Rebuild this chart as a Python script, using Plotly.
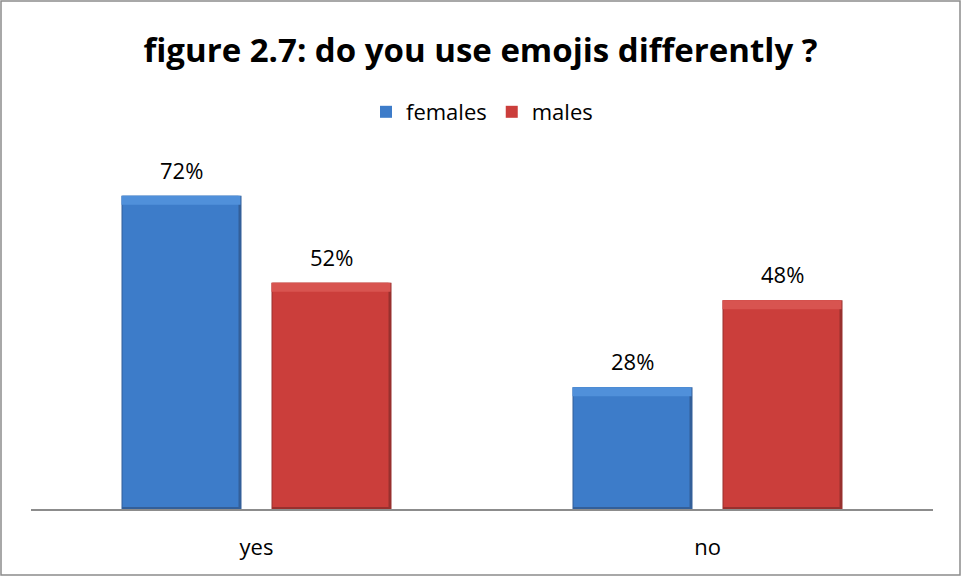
import plotly.graph_objects as go

categories = ["yes", "no"]
females = [72, 28]
males = [52, 48]
series_names = ["females", "males"]
title_text = "figure 2.7: do you use emojis differently ?"

FONT = "Open Sans, Lato, sans-serif"

# plot-area geometry used to express bevel sizes in data units
PLOT_W, PLOT_H = 902, 348
Y_MAX = 80
px_x = len(categories) / PLOT_W      # category units per pixel
px_y = Y_MAX / PLOT_H                # value units per pixel

BAR_W = 120 * px_x
OFFSETS = [-135 * px_x, 15 * px_x]   # left edge of each series relative to category centre

palette = {
    "females": dict(face="#3D7CC9", edge="#335F99", top="#5090DA"),
    "males": dict(face="#CB3E3B", edge="#98302E", top="#D85450"),
}

fig = go.Figure()
for name, vals, off in zip(series_names, [females, males], OFFSETS):
    c = palette[name]
    # darker outline / shaded right and bottom edges
    fig.add_trace(go.Bar(
        x=categories, y=vals, width=BAR_W, offset=off,
        marker=dict(color=c["edge"], line=dict(width=0)),
        showlegend=False, hoverinfo="skip",
    ))
for name, vals, off in zip(series_names, [females, males], OFFSETS):
    c = palette[name]
    # main face, inset from the edges
    fig.add_trace(go.Bar(
        name=name, x=categories,
        y=[v - 2 * px_y for v in vals], base=2 * px_y,
        width=BAR_W - 4 * px_x, offset=off + 1 * px_x,
        marker=dict(color=c["face"], line=dict(width=0)),
        hoverinfo="skip",
    ))
    # light bevel along the top
    fig.add_trace(go.Bar(
        x=categories, y=[9 * px_y] * len(vals), base=[v - 9 * px_y for v in vals],
        width=BAR_W - 1 * px_x, offset=off,
        marker=dict(color=c["top"], line=dict(width=0)),
        showlegend=False, hoverinfo="skip",
    ))

# value labels above each bar
for vals, off in zip([females, males], OFFSETS):
    for i, v in enumerate(vals):
        fig.add_annotation(
            x=i + off + BAR_W / 2, y=v, xref="x", yref="y", text=f"{v}%",
            showarrow=False, yshift=9, yanchor="bottom",
            font=dict(family=FONT, size=22, color="#000000"),
        )

fig.update_layout(
    width=961, height=576,
    margin=dict(l=31, r=28, t=161, b=67),
    paper_bgcolor="white", plot_bgcolor="white",
    barmode="overlay",
    title=dict(text=f"<b>{title_text}</b>", x=0.5, xanchor="center",
               y=1 - 50/576, yanchor="middle",
               font=dict(family=FONT, size=33, color="#000000")),
    legend=dict(orientation="h", x=0.5, xanchor="center", y=1 + (161-112)/348,
                yanchor="middle", font=dict(family=FONT, size=22, color="#000000"),
                itemwidth=30, tracegroupgap=0, traceorder="normal"),
    showlegend=True,
    xaxis=dict(showline=True, linecolor="#8C8C8C", linewidth=1.5, ticks="",
               tickfont=dict(family=FONT, size=22, color="#000000"),
               ticklabelstandoff=18, showgrid=False),
    yaxis=dict(range=[0, Y_MAX], visible=False, showgrid=False),
    shapes=[dict(type="rect", xref="paper", yref="paper",
                 x0=-30/902, x1=1 + 27/902, y0=-66/348, y1=1 + 160/348,
                 line=dict(color="#8C8C8C", width=1.5), fillcolor="rgba(0,0,0,0)")],
)

fig.write_html("out.html")
